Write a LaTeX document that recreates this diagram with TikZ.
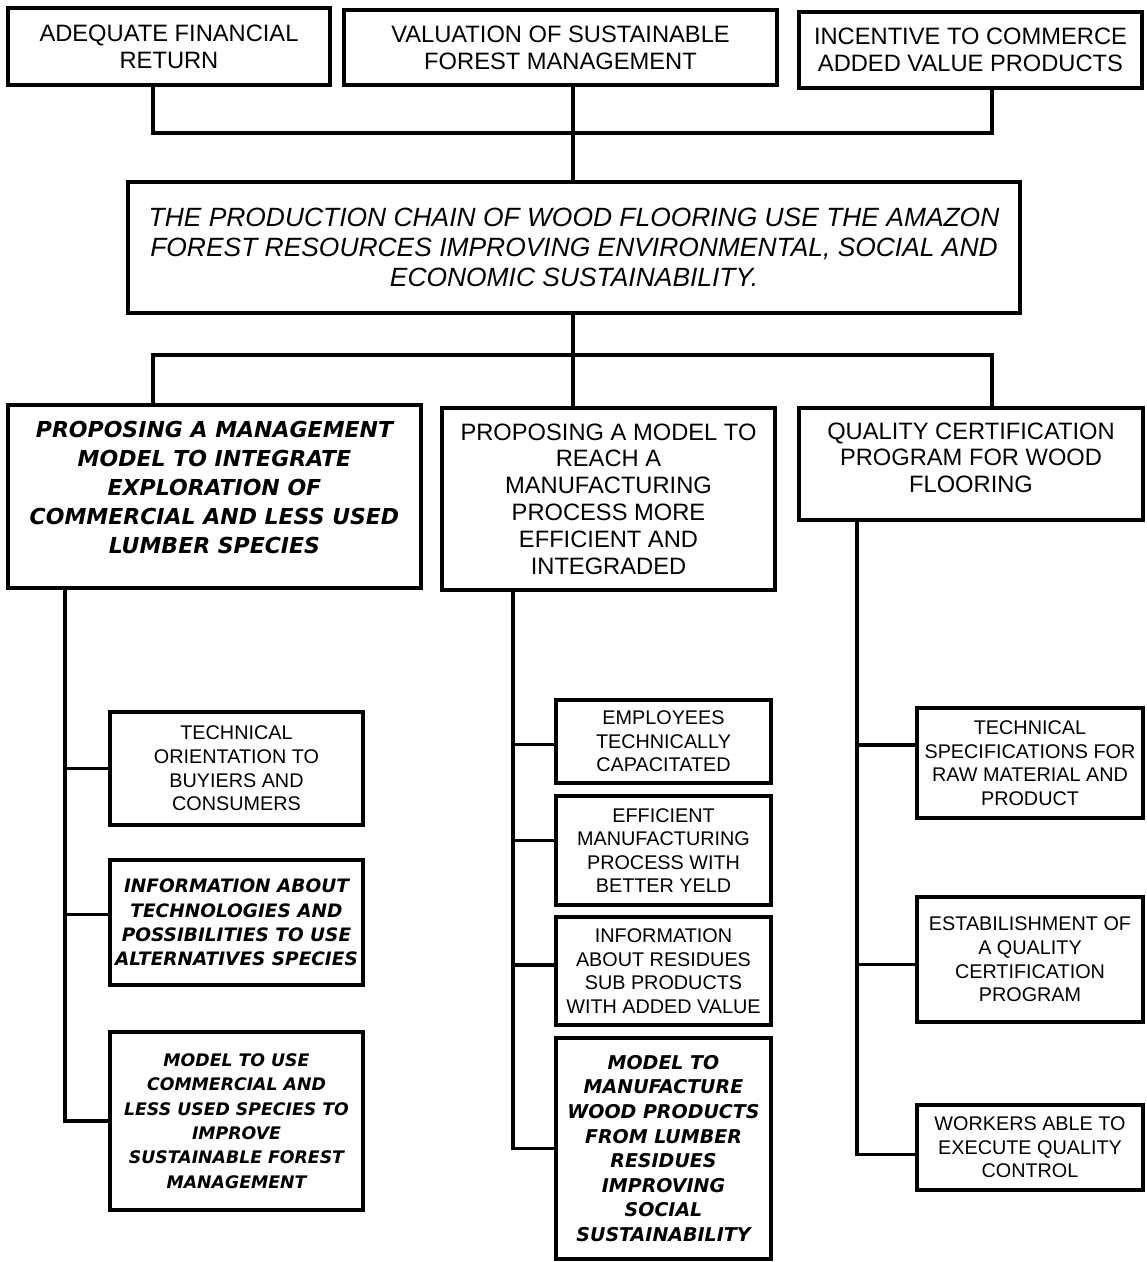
\documentclass[tikz,border=0pt]{standalone}
\usepackage{fontspec}
\setmainfont{Liberation Sans}
\newfontfamily\bifont{DejaVu Sans}
\begin{document}
\begin{tikzpicture}[x=1pt,y=-1pt]
\tikzset{
 box/.style={draw, line width=3.2pt, inner sep=0pt, align=center, text=black},
 sz/.style 2 args={minimum width=#1pt, minimum height=#2pt},
 big/.style={font=\fontsize{23.7}{26.8}\selectfont},
 small/.style={font=\fontsize{19.8}{23.6}\selectfont},
 bi/.style={font=\bifont\bfseries\itshape\fontsize{22}{29}\selectfont},
 bis/.style={font=\bifont\bfseries\itshape\fontsize{18.5}{24.4}\selectfont},
 bisx/.style={font=\bifont\bfseries\itshape\fontsize{17.3}{24.4}\selectfont},
 bism/.style={font=\bifont\bfseries\itshape\fontsize{19}{24.6}\selectfont},
 ita/.style={font=\itshape\fontsize{26.4}{30}\selectfont},
 wire/.style={line width=3.5pt},
}
\useasboundingbox (0,0) rectangle (1147,1262);
% top row
\node[box,big,sz={322}{77}] (A) at (169,46.5) {ADEQUATE FINANCIAL\\RETURN};
\node[box,big,sz={433}{75}] (B) at (560.5,47.5) {VALUATION OF SUSTAINABLE\\FOREST MANAGEMENT};
\node[box,big,sz={343}{76}] (C) at (970.5,50) {INCENTIVE TO COMMERCE\\ADDED VALUE PRODUCTS};
% central
\node[box,ita,sz={892}{131}] (M) at (574,247.5) {THE PRODUCTION CHAIN OF WOOD FLOORING USE THE AMAZON\\FOREST RESOURCES IMPROVING ENVIRONMENTAL, SOCIAL AND\\ECONOMIC SUSTAINABILITY.};
% second level
\node[box,bi,sz={413}{183}] (D) at (214.5,496.5) {PROPOSING A MANAGEMENT\\MODEL TO INTEGRATE\\EXPLORATION OF\\COMMERCIAL AND LESS USED\\LUMBER SPECIES\\[-10pt]};
\node[box,big,sz={333}{182}] (E) at (608.5,499) {PROPOSING A MODEL TO\\REACH A\\MANUFACTURING\\PROCESS MORE\\EFFICIENT AND\\INTEGRADED};
\node[box,big,sz={344}{112}] (F) at (971,464) {QUALITY CERTIFICATION\\PROGRAM FOR WOOD\\FLOORING\\[-14pt]};
% left column
\node[box,small,sz={253}{113}] (D1) at (236.5,768.5) {TECHNICAL\\ORIENTATION TO\\BUYIERS AND\\CONSUMERS};
\node[box,bis,sz={253}{125}] (D2) at (236.5,922.5) {INFORMATION ABOUT\\TECHNOLOGIES AND\\POSSIBILITIES TO USE\\ALTERNATIVES SPECIES};
\node[box,bisx,sz={253}{178}] (D3) at (236.5,1121) {MODEL TO USE\\COMMERCIAL AND\\LESS USED SPECIES TO\\IMPROVE\\SUSTAINABLE FOREST\\MANAGEMENT};
% middle column
\node[box,small,sz={215}{83}] (E1) at (663.5,741.5) {EMPLOYEES\\TECHNICALLY\\CAPACITATED};
\node[box,small,sz={215}{109}] (E2) at (663.5,850.5) {EFFICIENT\\MANUFACTURING\\PROCESS WITH\\BETTER YELD};
\node[box,small,sz={215}{108}] (E3) at (663.5,971) {INFORMATION\\ABOUT RESIDUES\\SUB PRODUCTS\\WITH ADDED VALUE};
\node[box,bism,sz={215}{221}] (E4) at (663.5,1148.5) {MODEL TO\\MANUFACTURE\\WOOD PRODUCTS\\FROM LUMBER\\RESIDUES\\IMPROVING\\SOCIAL\\SUSTAINABILITY};
% right column
\node[box,small,sz={226}{110}] (F1) at (1030,763) {TECHNICAL\\SPECIFICATIONS FOR\\RAW MATERIAL AND\\PRODUCT};
\node[box,small,sz={226}{125}] (F2) at (1030,959.5) {ESTABILISHMENT OF\\A QUALITY\\CERTIFICATION\\PROGRAM};
\node[box,small,sz={226}{85}] (F3) at (1030,1147.5) {WORKERS ABLE TO\\EXECUTE QUALITY\\CONTROL};
% connectors top
\coordinate (t1) at (153,133);
\coordinate (t2) at (573,133);
\coordinate (t3) at (992,133);
\draw[wire] (A.south -| t1) |- (t3) -- (C.south -| t3);
\draw[wire] (B.south -| t2) -- (M.north -| t2);
% connectors second
\coordinate (b1) at (153,355);
\coordinate (b2) at (573,355);
\coordinate (b3) at (992,355);
\draw[wire] (M.south -| b2) -- (E.north -| b2);
\draw[wire] (D.north -| b1) |- (b3) -- (F.north -| b3);
% spines
\coordinate (sl) at (65,0);
\coordinate (sm) at (513,0);
\coordinate (sr) at (857,0);
\coordinate (d2c) at ([yshift=8pt]D2.west);
\coordinate (e1c) at ([yshift=-3pt]E1.west);
\coordinate (e2c) at ([yshift=10pt]E2.west);
\coordinate (e3c) at ([yshift=6pt]E3.west);
\coordinate (f1c) at ([yshift=18pt]F1.west);
\coordinate (f2c) at ([yshift=-5pt]F2.west);
\coordinate (f3c) at ([yshift=-7pt]F3.west);
\draw[wire] (D.south -| sl) |- (D3.west);
\draw[wire] (sl |- D1.west) -- (D1.west);
\draw[wire] (sl |- d2c) -- (d2c);
\draw[wire] (E.south -| sm) |- (E4.west);
\draw[wire] (sm |- e1c) -- (e1c);
\draw[wire] (sm |- e2c) -- (e2c);
\draw[wire] (sm |- e3c) -- (e3c);
\draw[wire] (F.south -| sr) |- (f3c);
\draw[wire] (sr |- f1c) -- (f1c);
\draw[wire] (sr |- f2c) -- (f2c);
\end{tikzpicture}
\end{document}
